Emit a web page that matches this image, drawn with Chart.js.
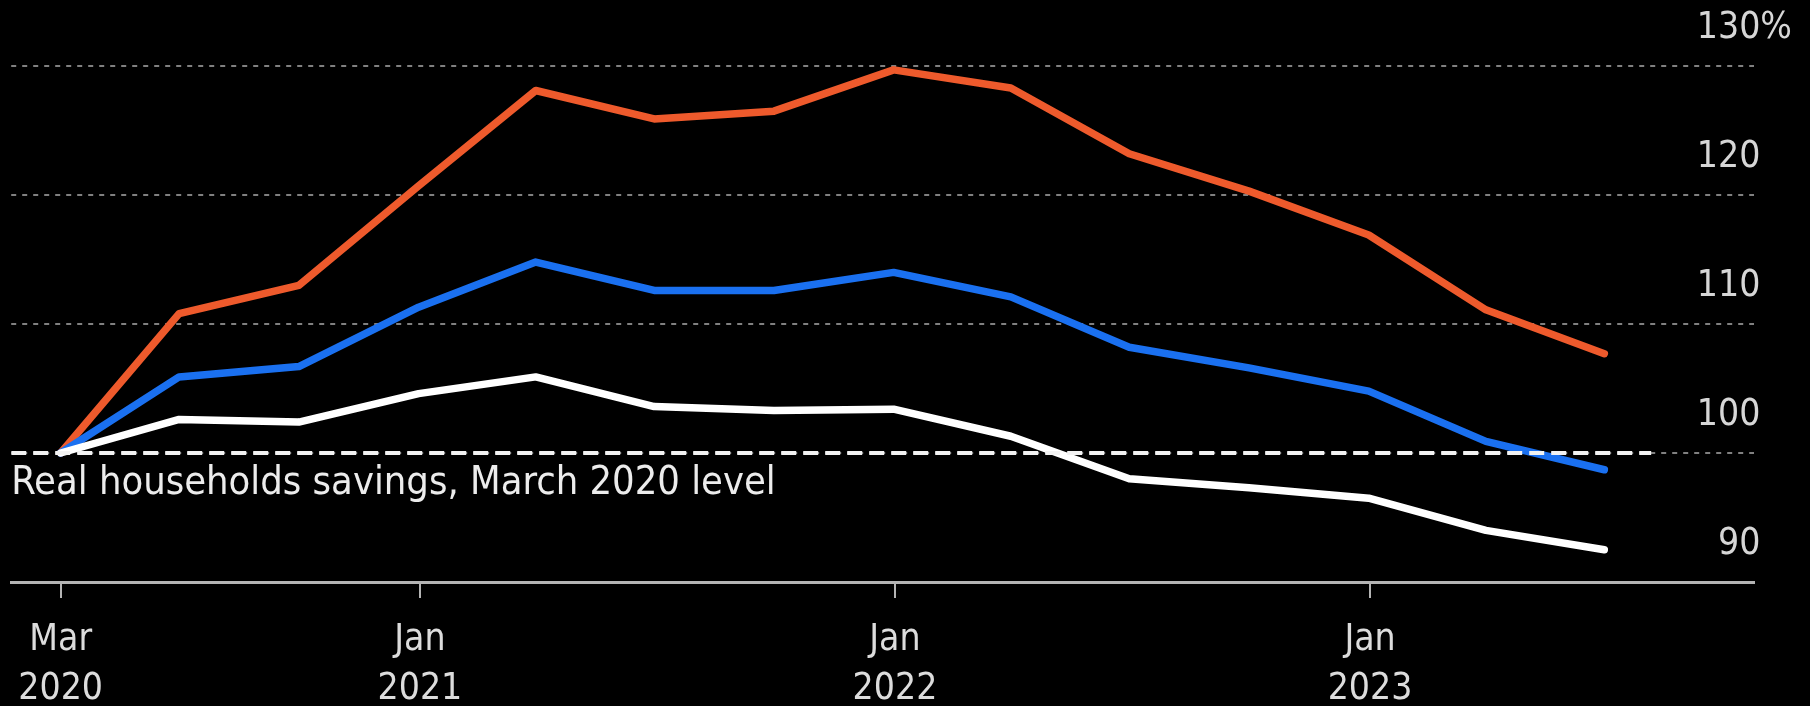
<!DOCTYPE html>
<html>
<head>
<meta charset="utf-8">
<script src="https://cdn.jsdelivr.net/npm/chart.js@4.4.1/dist/chart.umd.min.js"></script>
<style>
  html, body { margin: 0; padding: 0; background: #000; }
  #wrap { width: 1810px; height: 706px; position: relative; }
</style>
</head>
<body>
<div id="wrap"><canvas id="savings"></canvas></div>
<script>
// quarter-end dates of each reading
var quarters = ['2020-03-31', '2020-06-30', '2020-09-30', '2020-12-31',
                '2021-03-31', '2021-06-30', '2021-09-30', '2021-12-31',
                '2022-03-31', '2022-06-30', '2022-09-30', '2022-12-31',
                '2023-03-31', '2023-06-30'];
var orangeSeries = [100, 110.8, 113.0, 120.7, 128.1, 125.9, 126.5, 129.7, 128.3, 123.2, 120.3, 116.9, 111.1, 107.7];
var blueSeries   = [100, 105.9, 106.7, 111.3, 114.8, 112.6, 112.6, 114.0, 112.1, 108.2, 106.6, 104.8, 100.9, 98.7];
var whiteSeries  = [100, 102.6, 102.4, 104.6, 105.9, 103.6, 103.3, 103.4, 101.3, 98.0, 97.3, 96.5, 94.0, 92.5];

var xTickDates  = ['2020-03-31', '2021-01-01', '2022-01-01', '2023-01-01'];
var xTickLabels = [['Mar', '2020'], ['Jan', '2021'], ['Jan', '2022'], ['Jan', '2023']];
var xRange = ['2020-02-22', '2023-10-23'];

var yTicks = [90, 100, 110, 120, 130];

var baselineLevel = 100;
var baselineSpan = ['2020-02-22', '2023-08-05'];
var noteText = 'Real households savings, March 2020 level';

var FONT = '"Liberation Sans Narrow", "DejaVu Sans Condensed", sans-serif';

function ts(d) { return Date.parse(d + 'T00:00:00Z'); }
function pts(vals) {
  return quarters.map(function (q, i) { return { x: ts(q), y: vals[i] }; });
}

var noteLabel = {
  id: 'noteLabel',
  afterDatasetsDraw: function (chart) {
    var ctx = chart.ctx;
    var y = chart.scales.y.getPixelForValue(baselineLevel);
    ctx.save();
    ctx.font = '39.5px ' + FONT;
    ctx.fillStyle = '#ececec';
    ctx.textBaseline = 'alphabetic';
    ctx.textAlign = 'left';
    ctx.fillText(noteText, chart.chartArea.left, y + 41);
    ctx.restore();
  }
};

var lineStyle = { borderWidth: 7.5, pointRadius: 0, tension: 0, borderCapStyle: 'round', borderJoinStyle: 'round', fill: false };

new Chart(document.getElementById('savings').getContext('2d'), {
  type: 'line',
  data: {
    datasets: [
      {
        label: 'March 2020 level',
        data: baselineSpan.map(function (d) { return { x: ts(d), y: baselineLevel }; }),
        borderColor: '#f2f2f2', borderWidth: 4, borderDash: [15, 7], pointRadius: 0, borderCapStyle: 'butt'
      },
      Object.assign({ label: 'White', data: pts(whiteSeries), borderColor: '#ffffff' }, lineStyle),
      Object.assign({ label: 'Blue', data: pts(blueSeries), borderColor: '#1a70f0' }, lineStyle),
      Object.assign({ label: 'Orange', data: pts(orangeSeries), borderColor: '#ee5a2c' }, lineStyle)
    ]
  },
  options: {
    responsive: true,
    maintainAspectRatio: false,
    animation: false,
    layout: { padding: { left: 11, right: 56, top: 66, bottom: 0 } },
    plugins: { legend: { display: false }, tooltip: { enabled: false } },
    scales: {
      x: {
        type: 'linear',
        min: ts(xRange[0]),
        max: ts(xRange[1]),
        afterBuildTicks: function (scale) {
          scale.ticks = xTickDates.map(function (d) { return { value: ts(d) }; });
        },
        afterFit: function (scale) { scale.height = 124; },
        ticks: {
          autoSkip: false,
          maxRotation: 0,
          color: '#dcdcdc',
          font: { family: FONT, size: 37, lineHeight: 1.33 },
          padding: 18,
          callback: function (v, i) { return xTickLabels[i]; }
        },
        grid: { drawOnChartArea: false, drawTicks: true, tickLength: 16, color: '#b4b4b4', lineWidth: 2 },
        border: { display: true, color: '#b4b4b4', width: 3 }
      },
      y: {
        position: 'right',
        min: 90,
        max: 130,
        afterBuildTicks: function (scale) {
          scale.ticks = yTicks.map(function (v) { return { value: v }; });
        },
        afterFit: function (scale) { scale.width = 0; },
        ticks: {
          mirror: true,
          crossAlign: 'far',
          padding: 38,
          labelOffset: -38,
          color: '#d6d6d6',
          font: { family: FONT, size: 37 },
          callback: function (v) { return v === 130 ? '130%' : (v < 100 ? '\u2007' + v : String(v)); }
        },
        grid: {
          drawTicks: false,
          lineWidth: 2,
          color: function (c) { return c.tick && c.tick.value === 90 ? 'rgba(0,0,0,0)' : '#808080'; }
        },
        border: { display: false, dash: [5, 6] }
      }
    }
  },
  plugins: [noteLabel]
});
</script>
</body>
</html>
